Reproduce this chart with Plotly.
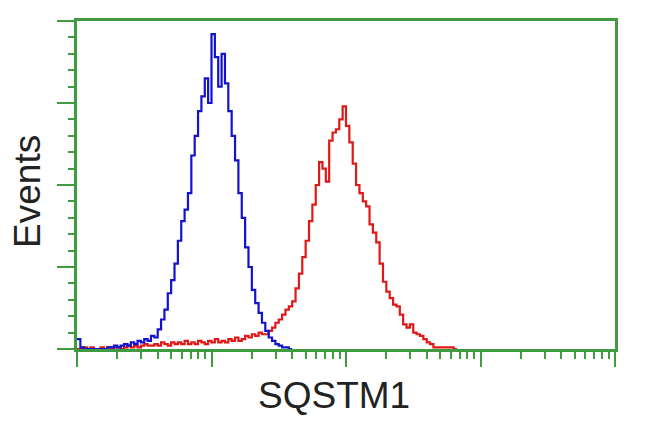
import numpy as np
import plotly.graph_objects as go

# Histogram channels: each bin spans 0.025 decade, starting at 10^0
BIN_WIDTH_DECADES = 0.025

# Blue histogram (control), counts per bin starting at bin 0
blue_counts = [6, 1, 0, 0, 0, 0, 0, 0, 0, 1,
               1, 2, 1, 2, 3, 2, 4, 3, 5, 4,
               6, 5, 8, 7, 12, 18, 24, 34, 42, 52,
               66, 78, 85, 95, 118, 130, 145, 154, 165, 150,
               192, 178, 160, 180, 162, 145, 130, 115, 95, 80,
               62, 50, 36, 28, 22, 16, 11, 7, 5, 3,
               2, 1, 1, 0]

# Red histogram (SQSTM1 stained), counts per bin starting at bin 0
red_counts = [0, 0, 1, 0, 1, 0, 0, 1, 0, 1,
              0, 1, 1, 0, 1, 2, 1, 2, 1, 2,
              3, 2, 2, 3, 2, 4, 3, 2, 4, 3,
              4, 3, 5, 3, 4, 3, 5, 4, 3, 5,
              4, 6, 4, 5, 4, 6, 5, 7, 5, 6,
              8, 7, 9, 8, 10, 9, 9, 11, 13, 16,
              18, 21, 24, 26, 29, 37, 46, 56, 66, 78,
              88, 100, 114, 110, 102, 127, 132, 134, 140, 148,
              136, 126, 113, 100, 95, 90, 87, 76, 71, 65,
              52, 41, 35, 31, 27, 26, 21, 15, 13, 15,
              10, 9, 8, 6, 4, 3, 1, 1, 1, 1,
              1, 1, 0]

x_title = "SQSTM1"
y_title = "Events"

GREEN = "#3f9b3f"


def step_xy(counts):
    edges = 10 ** (np.arange(len(counts) + 1) * BIN_WIDTH_DECADES)
    return list(edges), list(counts) + [counts[-1]]


fig = go.Figure()
bx, by = step_xy(blue_counts)
rx, ry = step_xy(red_counts)
fig.add_trace(go.Scatter(x=rx, y=ry, mode="lines", line=dict(color="#e01818", width=2.2, shape="hv")))
fig.add_trace(go.Scatter(x=bx, y=by, mode="lines", line=dict(color="#1212d0", width=2.2, shape="hv")))

minor_x = [m * 10 ** d for d in range(4) for m in range(2, 10)]

fig.update_layout(
    width=650, height=432,
    margin=dict(l=77, r=35, t=21, b=83),
    paper_bgcolor="white", plot_bgcolor="white",
    showlegend=False,
    font=dict(family="Liberation Sans, Arial, sans-serif", color="#222222"),
    xaxis=dict(
        type="log", range=[0, 4],
        showline=True, linecolor=GREEN, linewidth=2.5, mirror=True,
        ticks="outside", ticklen=15, tickwidth=2, tickcolor=GREEN,
        tickmode="array", tickvals=[1, 10, 100, 1000, 10000],
        showticklabels=False, showgrid=False, zeroline=False,
        minor=dict(tickmode="array", tickvals=minor_x, ticks="outside",
                   ticklen=7, tickwidth=2, tickcolor=GREEN, showgrid=False),
    ),
    yaxis=dict(
        range=[0, 200],
        showline=True, linecolor=GREEN, linewidth=2.5, mirror=True,
        ticks="outside", ticklen=17, tickwidth=2, tickcolor=GREEN,
        dtick=50, tick0=0,
        showticklabels=False, showgrid=False, zeroline=False,
        minor=dict(dtick=10, ticks="outside", ticklen=6, tickwidth=2,
                   tickcolor=GREEN, showgrid=False),
    ),
    annotations=[
        dict(text=x_title, xref="paper", yref="paper", x=0.478, y=-0.143,
             xanchor="center", yanchor="middle", showarrow=False,
             font=dict(size=37, color="#222222")),
        dict(text=y_title, xref="paper", yref="paper", x=-0.091, y=0.479,
             xanchor="center", yanchor="middle", showarrow=False, textangle=-90,
             font=dict(size=37, color="#222222")),
    ],
)

fig.write_html("out.html", config={"displayModeBar": False},
               post_script="document.body.style.margin='0px';")
